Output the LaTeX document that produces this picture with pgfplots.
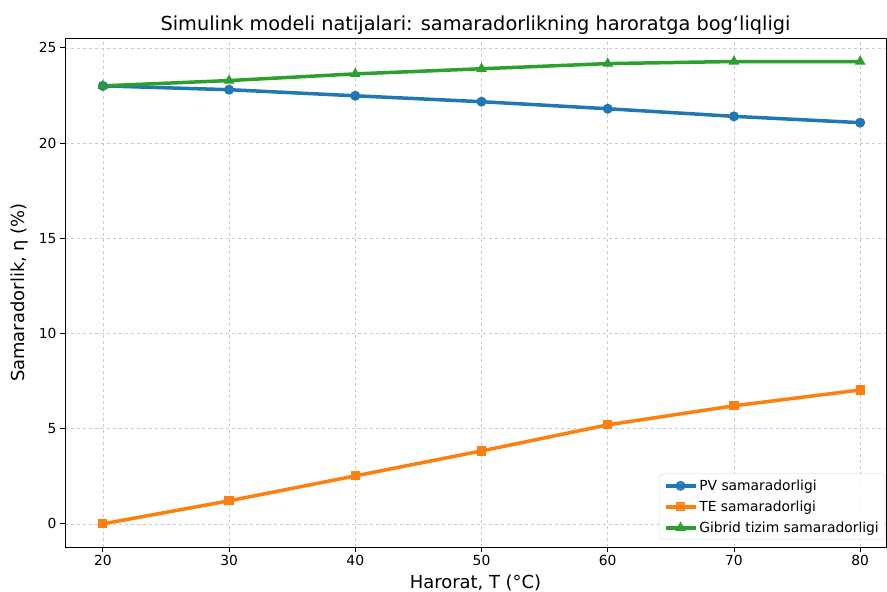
\documentclass[border=0pt]{standalone}
\usepackage{fontspec}
\setmainfont{DejaVu Sans}
\usepackage{pgfplots}
\pgfplotsset{compat=1.18}
\definecolor{tabblue}{HTML}{1F77B4}
\definecolor{taborange}{HTML}{FF7F0E}
\definecolor{tabgreen}{HTML}{2CA02C}
\begin{document}
\begin{tikzpicture}
\useasboundingbox (0,0) rectangle (887bp,592bp);
\begin{axis}[
  at={(65bp,45bp)}, anchor=south west,
  scale only axis, width=821bp, height=509bp,
  xmin=17, xmax=82.05, ymin=-1.215, ymax=25.515,
  xtick={20,30,...,80}, ytick={0,5,...,25},
  tick align=outside, major tick length=5bp,
  tick style={black, line width=0.8bp},
  xtick pos=bottom, ytick pos=left,
  axis line style={line width=0.8bp},
  /pgf/number format/assume math mode=true,
  ticklabel style={font=\fontsize{13.9}{16}\selectfont},
  grid=major,
  grid style={dashed, gray!40, line width=0.6bp},
  title={Simulink modeli natijalari: samaradorlikning haroratga bog‘liqligi},
  title style={font=\fontsize{19.4}{22}\selectfont, yshift=-6bp},
  xlabel={Harorat, T (°C)},
  ylabel={Samaradorlik, η (\%)},
  label style={font=\fontsize{18}{20}\selectfont},
  xlabel style={yshift=-2bp},
  ylabel style={yshift=4bp},
  legend style={font=\fontsize{13.9}{16}\selectfont, draw=gray!35, rounded corners=3bp,
    at={(1,0)}, anchor=south east, xshift=-1bp, yshift=7bp,
    row sep=5bp, inner sep=4bp, fill=white, fill opacity=0.85, text opacity=1},
  legend cell align=left,
  legend image code/.code={
    \draw[#1, line width=3.5bp, mark repeat=2, mark phase=2] plot coordinates {(0bp,0bp) (15bp,0bp) (30bp,0bp)};
  },
]
\addplot[tabblue, line width=3.5bp, mark=*, mark size=4.5bp, mark options={solid, line width=1bp}] coordinates {
(20,23.0) (30,22.8) (40,22.48) (50,22.17) (60,21.8) (70,21.4) (80,21.07)};
\addlegendentry{PV samaradorligi}
\addplot[taborange, line width=3.5bp, mark=square*, mark size=4.1bp, mark options={solid, line width=1bp}] coordinates {
(20,0.0) (30,1.21) (40,2.52) (50,3.83) (60,5.2) (70,6.2) (80,7.03)};
\addlegendentry{TE samaradorligi}
\addplot[tabgreen, line width=3.5bp, mark=triangle*, mark size=5.2bp, mark options={solid, line width=1bp}] coordinates {
(20,23.0) (30,23.28) (40,23.63) (50,23.9) (60,24.17) (70,24.28) (80,24.28)};
\addlegendentry{Gibrid tizim samaradorligi}
\end{axis}
\end{tikzpicture}
\end{document}
